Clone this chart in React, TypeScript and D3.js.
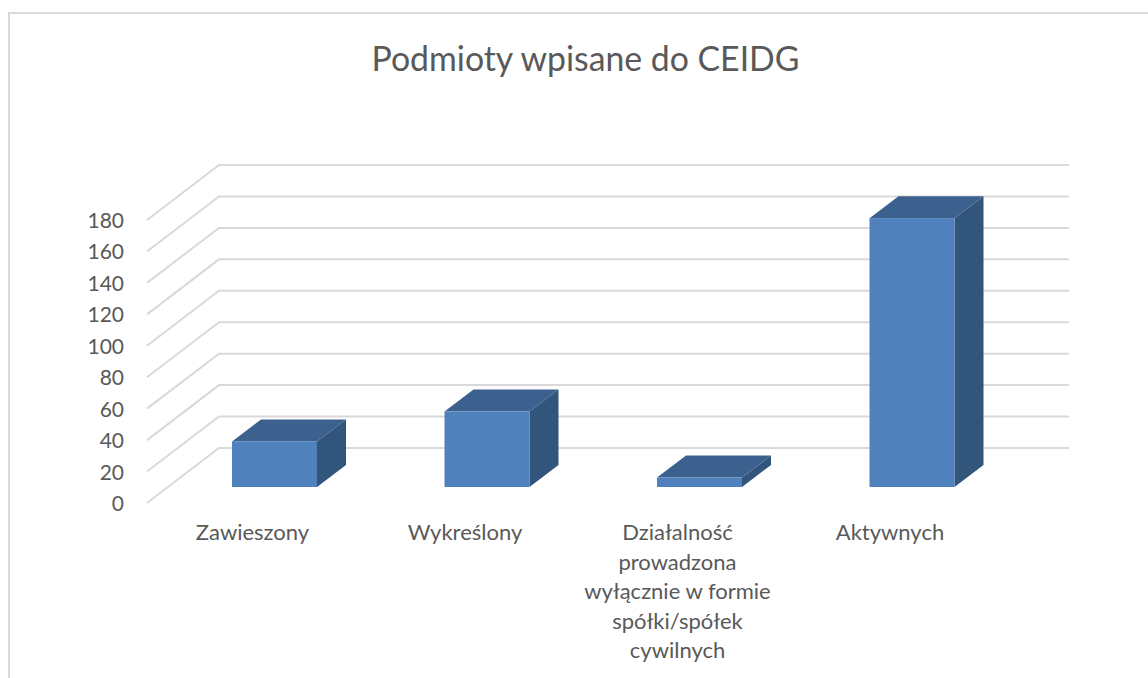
import React from "react";
import * as d3 from "d3";

const title = "Podmioty wpisane do CEIDG";
const categories = ["Zawieszony", "Wykreślony", "Działalność", "Aktywnych"];
const categoryLines = [
  ["Zawieszony"],
  ["Wykreślony"],
  ["Działalność", "prowadzona", "wyłącznie w formie", "spółki/spółek", "cywilnych"],
  ["Aktywnych"],
];
const values = [29, 48, 6, 171];
const ticks = [0, 20, 40, 60, 80, 100, 120, 140, 160, 180];

const font = "Lato, Carlito, Calibri, sans-serif";
const textColor = "#595959";
const gridColor = "#d9d9d9";

const y = d3.scaleLinear().domain([0, 180]).range([503, 220]);
const x = d3.scaleBand().domain(categories).range([168.25, 1018.25]).paddingInner(0.6).paddingOuter(0.3);
const gridDx = 72;
const gridDy = -55;
const barDx = 29;
const barDy = -22;
const barBase = 487;
const barScale = (v: number) => barBase - (y(0) - y(v));

export default function App() {
  return (
    <svg width={1148} height={678} style={{ position: "absolute", left: 0, top: 0 }}>
      <rect width={1148} height={678} fill="#fff" />
      <path d="M9,678V13H1148" fill="none" stroke={gridColor} strokeWidth={2} />
      <text x={585.5} y={71} textAnchor="middle" fontFamily={font} fontSize={33.8} fill={textColor}>{title}</text>
      {ticks.map((t) => (
        <g key={t}>
          <path
            d={`M147,${y(t)}L${147 + gridDx},${y(t) + gridDy}H1069`}
            fill="none"
            stroke={gridColor}
            strokeWidth={2}
          />
          <text x={124} y={y(t) + 8} textAnchor="end" fontFamily={font} fontSize={21} fill={textColor}>{t}</text>
        </g>
      ))}
      {categories.map((c, i) => {
        const x0 = x(c)!;
        const x1 = x0 + x.bandwidth();
        const top = barScale(values[i]);
        return (
          <g key={c}>
            <polygon points={`${x0},${top} ${x0 + barDx},${top + barDy} ${x1 + barDx},${top + barDy} ${x1},${top}`} fill="#3c618e" />
            <polygon points={`${x1},${top} ${x1 + barDx},${top + barDy} ${x1 + barDx},${barBase + barDy} ${x1},${barBase}`} fill="#32557c" />
            <rect x={x0} y={top} width={x.bandwidth()} height={barBase - top} fill="#4f81bd" />
            <text textAnchor="middle" fontFamily={font} fontSize={22} fill={textColor}>
              {categoryLines[i].map((line, j) => (
                <tspan key={j} x={(x0 + x1) / 2 - 22} y={540 + j * 29.5}>{line}</tspan>
              ))}
            </text>
          </g>
        );
      })}
    </svg>
  );
}
